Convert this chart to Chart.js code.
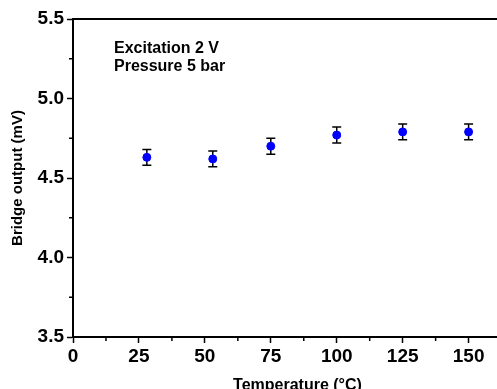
<!DOCTYPE html>
<html>
<head>
<meta charset="utf-8">
<script src="https://cdn.jsdelivr.net/npm/chart.js@4.4.1/dist/chart.umd.min.js"></script>
<style>
  html, body { margin: 0; padding: 0; background: #fff; overflow: hidden; }
  canvas { display: block; }
</style>
</head>
<body>
<canvas id="bridgeChart" width="527" height="389"></canvas>
<script>
const temperatures = [28, 53, 75, 100, 125, 150];
const bridgeOutput = [4.63, 4.62, 4.70, 4.77, 4.79, 4.79];
const outputError = [0.05, 0.05, 0.05, 0.05, 0.05, 0.05];
const xTicks = [0, 25, 50, 75, 100, 125, 150];
const yTicks = [3.5, 4.0, 4.5, 5.0, 5.5];
const noteLines = ["Excitation 2 V", "Pressure 5 bar"];

const FONT = "'Liberation Sans', Arial, sans-serif";
// the original frame runs past the right edge of the picture
const X_MAX = 170.25;

// error bars behind the dots
const errorBarPlugin = {
  id: "errorBars",
  beforeDatasetsDraw(chart) {
    const { ctx, scales: { x, y } } = chart;
    ctx.save();
    ctx.strokeStyle = "#000";
    ctx.lineWidth = 1.5;
    temperatures.forEach((t, i) => {
      const px = x.getPixelForValue(t);
      const top = y.getPixelForValue(bridgeOutput[i] + outputError[i]);
      const bottom = y.getPixelForValue(bridgeOutput[i] - outputError[i]);
      ctx.beginPath();
      ctx.moveTo(px, top);
      ctx.lineTo(px, bottom);
      ctx.moveTo(px - 4.5, top);
      ctx.lineTo(px + 4.5, top);
      ctx.moveTo(px - 4.5, bottom);
      ctx.lineTo(px + 4.5, bottom);
      ctx.stroke();
    });
    ctx.restore();
  },
};

// short minor ticks half way between the labelled ones, plus the note text
const extrasPlugin = {
  id: "extras",
  afterDraw(chart) {
    const { ctx, chartArea, scales: { x, y } } = chart;
    ctx.save();
    ctx.strokeStyle = "#000";
    ctx.lineWidth = 1.5;
    ctx.beginPath();
    for (let i = 0; i < xTicks.length; i++) {
      const mid = i < xTicks.length - 1 ? (xTicks[i] + xTicks[i + 1]) / 2 : xTicks[i] + (xTicks[1] - xTicks[0]) / 2;
      const px = x.getPixelForValue(mid);
      if (px > chartArea.right) continue;
      ctx.moveTo(px, chartArea.bottom);
      ctx.lineTo(px, chartArea.bottom + 4);
    }
    for (let i = 0; i < yTicks.length - 1; i++) {
      const py = y.getPixelForValue((yTicks[i] + yTicks[i + 1]) / 2);
      ctx.moveTo(chartArea.left, py);
      ctx.lineTo(chartArea.left - 4, py);
    }
    ctx.stroke();

    ctx.fillStyle = "#000";
    ctx.font = "bold 16px " + FONT;
    ctx.textAlign = "left";
    ctx.textBaseline = "alphabetic";
    noteLines.forEach((line, i) => {
      ctx.fillText(line, 114, 52.5 + i * 18.5);
    });
    ctx.restore();
  },
};

new Chart(document.getElementById("bridgeChart"), {
  type: "scatter",
  data: {
    datasets: [
      {
        label: "Bridge output",
        data: temperatures.map((t, i) => ({ x: t, y: bridgeOutput[i] })),
        backgroundColor: "#0000ff",
        borderColor: "#0000ff",
        pointRadius: 4,
        pointHoverRadius: 4,
      },
    ],
  },
  options: {
    responsive: false,
    animation: false,
    layout: { padding: 0 },
    plugins: {
      legend: { display: false },
      tooltip: { enabled: false },
    },
    scales: {
      x: {
        type: "linear",
        position: "bottom",
        min: 0,
        max: X_MAX,
        afterBuildTicks: (scale) => {
          scale.ticks = xTicks.map((v) => ({ value: v }));
        },
        afterFit: (scale) => {
          scale.height = 52;
        },
        ticks: {
          color: "#000",
          font: { family: FONT, size: 19, weight: "bold" },
          padding: 2,
          maxRotation: 0,
          autoSkip: false,
        },
        grid: {
          drawOnChartArea: false,
          tickLength: 6,
          tickWidth: 1.5,
          tickColor: "#000",
        },
        border: { display: true, color: "#000", width: 2 },
        title: {
          display: true,
          text: "Temperature (°C)",
          color: "#000",
          font: { family: FONT, size: 16, weight: "bold", lineHeight: 1 },
          padding: { top: 0, bottom: -5 },
        },
      },
      xTop: {
        type: "linear",
        position: "top",
        display: true,
        min: 0,
        max: X_MAX,
        afterFit: (scale) => {
          scale.height = 19;
        },
        ticks: { display: false },
        grid: { drawOnChartArea: false, drawTicks: false },
        border: { display: true, color: "#000", width: 2 },
      },
      y: {
        type: "linear",
        min: 3.5,
        max: 5.5,
        afterBuildTicks: (scale) => {
          scale.ticks = yTicks.map((v) => ({ value: v }));
        },
        afterFit: (scale) => {
          scale.width = 73;
        },
        ticks: {
          color: "#000",
          font: { family: FONT, size: 19, weight: "bold" },
          padding: 3,
          callback: (v) => Number(v).toFixed(1),
        },
        grid: {
          drawOnChartArea: false,
          tickLength: 6,
          tickWidth: 1.5,
          tickColor: "#000",
        },
        border: { display: true, color: "#000", width: 2 },
        title: {
          display: true,
          text: "Bridge output (mV)",
          color: "#000",
          font: { family: FONT, size: 15, weight: "bold", lineHeight: 1.2 },
          padding: { top: 8.5, bottom: 0 },
        },
      },
    },
  },
  plugins: [errorBarPlugin, extrasPlugin],
});
</script>
</body>
</html>
